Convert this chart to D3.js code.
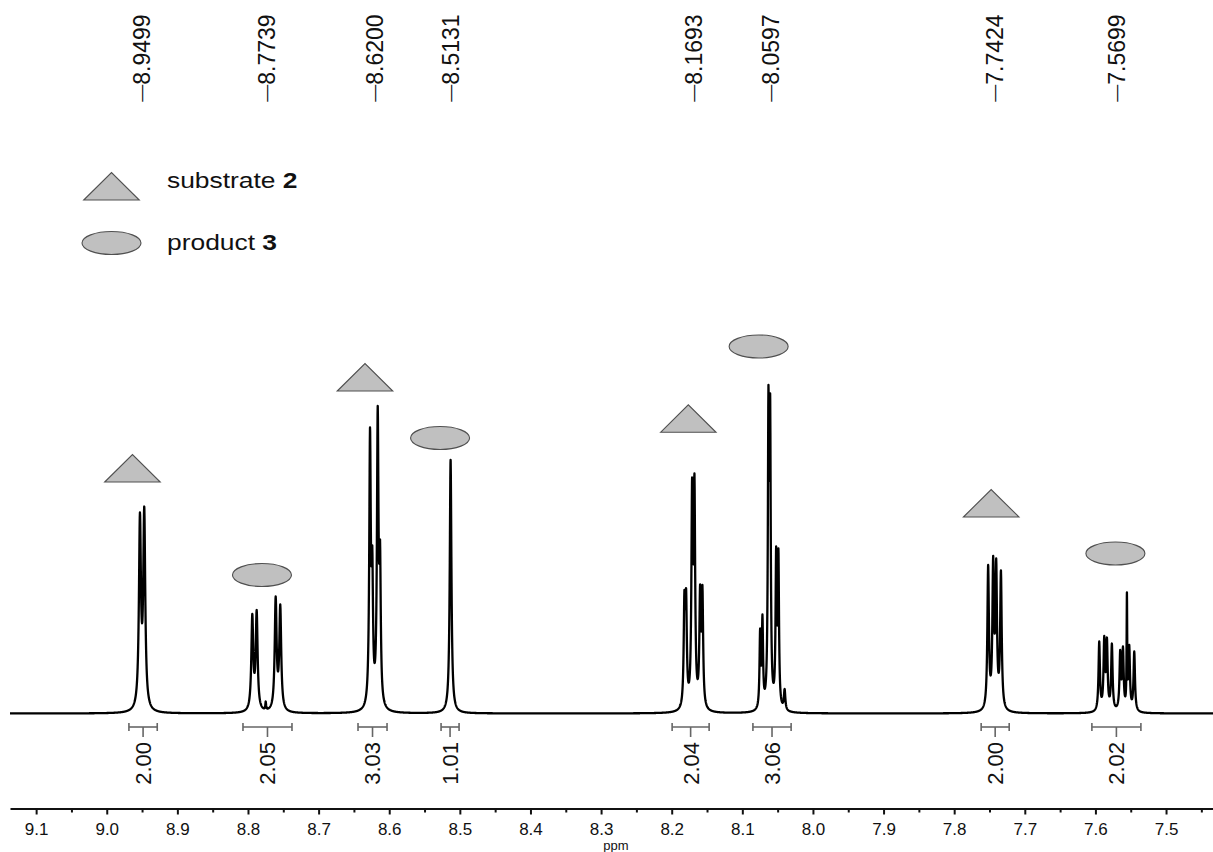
<!DOCTYPE html>
<html>
<head>
<meta charset="utf-8">
<script src="https://cdn.jsdelivr.net/npm/d3@7"></script>
<style>
  html, body { margin: 0; padding: 0; background: #fff; }
  svg { display: block; }
  text { font-family: "Liberation Sans", Arial, Helvetica, sans-serif; fill: #111; }
</style>
</head>
<body>
<svg id="chart" width="1213" height="852"></svg>
<script>
// ---- Chemical-shift window and ruler (ppm) ----
const shiftWindow = [9.137, 7.4335];
const majorTicks = [9.1, 9.0, 8.9, 8.8, 8.7, 8.6, 8.5, 8.4, 8.3, 8.2, 8.1, 8.0, 7.9, 7.8, 7.7, 7.6, 7.5];
const minorTicks = [9.05, 8.95, 8.85, 8.75, 8.65, 8.55, 8.45, 8.35, 8.25, 8.15, 8.05, 7.95, 7.85, 7.75, 7.65, 7.55, 7.45];
const axisTitle = "ppm";

// ---- Peak picking ----
const peakLabels = [8.9499, 8.7739, 8.6200, 8.5131, 8.1693, 8.0597, 7.7424, 7.5699];

// ---- Integration regions ----
const integralFrom   = [8.9686, 8.8071, 8.6442, 8.5266, 8.1994, 8.0850, 7.7618, 7.6050];
const integralTo     = [8.9285, 8.7377, 8.6031, 8.5011, 8.1470, 8.0309, 7.7221, 7.5356];
const integralValues = ["2.00", "2.05", "3.03", "1.01", "2.04", "3.06", "2.00", "2.02"];

// ---- Resonance lines: position (ppm), apex height, Lorentzian half-width (ppm) ----
const linePpm = [
  8.9530, 8.9469,
  8.7939, 8.7877, 8.7749, 8.7608, 8.7543,
  8.6272, 8.6240, 8.6163, 8.6130,
  8.5131,
  8.1820, 8.1796, 8.1711, 8.1678, 8.1598, 8.1565,
  8.0748, 8.0715, 8.0630, 8.0606, 8.0521, 8.0489, 8.0401,
  7.7519, 7.7448, 7.7405, 7.7338,
  7.5946, 7.5875, 7.5837, 7.5767, 7.5649, 7.5610, 7.5554, 7.5521, 7.5450
];
const lineApex = [
  201, 207,
  99.5, 103.5, 12, 117, 109,
  286, 168, 307.5, 174,
  253.5,
  123.5, 125, 236, 240, 129, 128.5,
  85, 99, 328.5, 320, 167, 165, 24.5,
  148.5, 157.5, 155, 143,
  72, 77.5, 76, 70, 63.5, 67, 121, 68.5, 62
];
const lineHalfWidth = [
  0.0017, 0.0017,
  0.0016, 0.0016, 0.0006, 0.0016, 0.0016,
  0.0013, 0.0012, 0.0013, 0.0012,
  0.0014,
  0.0012, 0.0012, 0.0012, 0.0012, 0.0012, 0.0012,
  0.0010, 0.0010, 0.0010, 0.0010, 0.0010, 0.0010, 0.0012,
  0.0013, 0.0013, 0.0013, 0.0013,
  0.0012, 0.0012, 0.0012, 0.0012, 0.0012, 0.0012, 0.0005, 0.0012, 0.0012
];

// ---- Assignment markers (substrate 2 = triangle, product 3 = ellipse) ----
const markerShape = ["triangle", "ellipse", "triangle", "ellipse", "triangle", "ellipse", "triangle", "ellipse"];
const markerPpm   = [8.9636, 8.7802, 8.6343, 8.5280, 8.1765, 8.0769, 7.7476, 7.5717];
const markerLevel = [231.5, 127, 322.5, 264, 281.2, 355.5, 196.5, 148.5];

// ---- Legend ----
const legendNames = ["substrate ", "product "];
const legendNumbers = ["2", "3"];

const svg = d3.select("#chart");

const x = d3.scaleLinear().domain(shiftWindow).range([10, 1213]);
const y = d3.scaleLinear().domain([0, 330]).range([713.5, 383.5]);

// Line heights chosen so the summed spectrum reaches each apex value
const lorentz = (p, c, w) => 1 / (1 + ((p - c) / w) ** 2);
const heights = lineApex.slice();
for (let it = 0; it < 200; it++) {
  const sums = linePpm.map(p => d3.sum(linePpm, (c, j) => heights[j] * lorentz(p, c, lineHalfWidth[j])));
  for (let i = 0; i < heights.length; i++) {
    heights[i] = Math.max(0, heights[i] + 0.5 * (lineApex[i] - sums[i]));
  }
}

// Sample the spectrum on a fine grid plus every line centre
const step = 0.00025;
const grid = d3.range(shiftWindow[1], shiftWindow[0] + step, step).concat(linePpm).sort(d3.descending);
const spectrum = grid.map(p => ({
  ppm: p,
  v: d3.sum(linePpm, (c, j) => heights[j] * lorentz(p, c, lineHalfWidth[j]))
}));

svg.append("clipPath").attr("id", "plotClip")
  .append("rect").attr("x", 10).attr("y", 0).attr("width", 1203).attr("height", 800);

svg.append("path")
  .datum(spectrum)
  .attr("clip-path", "url(#plotClip)")
  .attr("fill", "none")
  .attr("stroke", "#000")
  .attr("stroke-width", 2.3)
  .attr("stroke-linejoin", "round")
  .attr("d", d3.line().x(d => x(d.ppm)).y(d => y(d.v)));

// ---- Ruler ----
const axisY = 808.5;
const majorAxis = svg.append("g").attr("transform", `translate(0,${axisY})`)
  .call(d3.axisBottom(x).tickValues(majorTicks).tickSize(6).tickSizeOuter(0)
    .tickPadding(8).tickFormat(d3.format(".1f")));
majorAxis.select(".domain").attr("stroke", "#111").attr("stroke-width", 2);
majorAxis.selectAll(".tick line").attr("stroke", "#111").attr("stroke-width", 2);
majorAxis.selectAll(".tick text").attr("font-size", 17).attr("fill", "#222")
  .attr("font-family", "Liberation Sans, Arial, sans-serif");

const minorAxis = svg.append("g").attr("transform", `translate(0,${axisY})`)
  .call(d3.axisBottom(x).tickValues(minorTicks).tickSize(4).tickSizeOuter(0).tickFormat(""));
minorAxis.select(".domain").remove();
minorAxis.selectAll(".tick line").attr("stroke", "#111").attr("stroke-width", 2);

svg.append("text")
  .attr("x", 616).attr("y", 850)
  .attr("text-anchor", "middle")
  .attr("font-size", 13)
  .attr("fill", "#222")
  .text(axisTitle);

// ---- Peak labels ----
const peakFont = 23;
const peakG = svg.append("g");
peakLabels.forEach(p => {
  const t = peakG.append("text")
    .attr("transform", `translate(${x(p) + 0.36 * peakFont},101.7) rotate(-90)`)
    .attr("text-anchor", "start")
    .attr("fill", "#111");
  t.append("tspan").attr("font-size", 17).attr("dy", -3).text("\u2014");
  t.append("tspan").attr("font-size", peakFont).attr("dy", 3).text(p.toFixed(4));
});

// ---- Integrals ----
const intG = svg.append("g");
const bracketY = 727;
integralValues.forEach((val, i) => {
  const x0 = x(integralFrom[i]), x1 = x(integralTo[i]);
  const xc = x((integralFrom[i] + integralTo[i]) / 2);
  const g = intG.append("g").attr("stroke", "#666").attr("stroke-width", 1.6).attr("fill", "none");
  g.append("line").attr("x1", x0).attr("x2", x1).attr("y1", bracketY).attr("y2", bracketY);
  g.append("line").attr("x1", x0).attr("x2", x0).attr("y1", bracketY - 4).attr("y2", bracketY + 4);
  g.append("line").attr("x1", x1).attr("x2", x1).attr("y1", bracketY - 4).attr("y2", bracketY + 4);
  g.append("line").attr("x1", xc).attr("x2", xc).attr("y1", bracketY).attr("y2", bracketY + 10);
  intG.append("text")
    .attr("transform", `translate(${xc + 0.36 * 22},742) rotate(-90)`)
    .attr("text-anchor", "end")
    .attr("font-size", 22)
    .text(val);
});

// ---- Markers ----
const triW = 55.5, triH = 27.5, ellRx = 29.5, ellRy = 11.5;
const markerFill = "#c0c0c0", markerStroke = "#505050";
function drawTriangle(g, cx, baseY) {
  g.append("path")
    .attr("d", `M${cx - triW / 2},${baseY}L${cx},${baseY - triH}L${cx + triW / 2},${baseY}Z`)
    .attr("fill", markerFill).attr("stroke", markerStroke).attr("stroke-width", 1.1);
}
function drawEllipse(g, cx, cy) {
  g.append("ellipse").attr("cx", cx).attr("cy", cy).attr("rx", ellRx).attr("ry", ellRy)
    .attr("fill", markerFill).attr("stroke", markerStroke).attr("stroke-width", 1.1);
}
const markG = svg.append("g");
markerShape.forEach((s, i) => {
  const cx = x(markerPpm[i]);
  const bottom = y(markerLevel[i]);
  if (s === "triangle") drawTriangle(markG, cx, bottom);
  else drawEllipse(markG, cx, bottom - ellRy);
});

// ---- Legend ----
const legG = svg.append("g");
drawTriangle(legG, 111.5, 200);
drawEllipse(legG, 111.5, 243);
[188, 250].forEach((by, i) => {
  const t = legG.append("text")
    .attr("transform", `translate(167,${by}) scale(1.2,1)`)
    .attr("font-size", 22);
  t.append("tspan").text(legendNames[i]);
  t.append("tspan").attr("font-weight", "bold").text(legendNumbers[i]);
});
</script>
</body>
</html>
